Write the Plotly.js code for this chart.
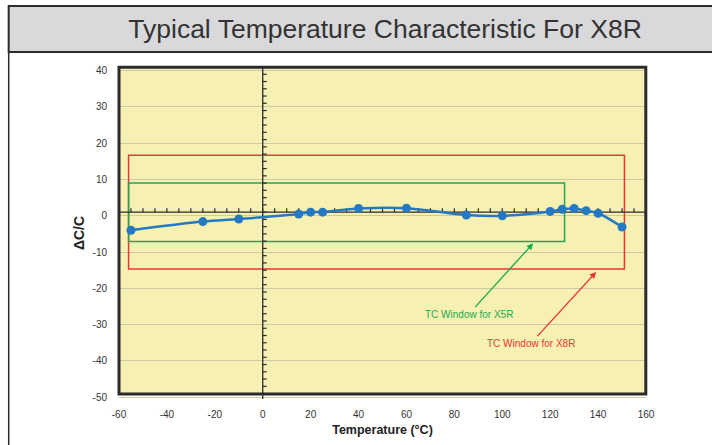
<!DOCTYPE html>
<html>
<head>
<meta charset="utf-8">
<script src="https://cdn.plot.ly/plotly-3.0.1.min.js"></script>
<style>html,body{margin:0;padding:0;background:#fff;}#chart{width:712px;height:445px;}</style>
</head>
<body>
<div id="chart"></div>
<script>
// ---- data ----
const temperatureC = [-55, -25, -10, 15, 20, 25, 40, 60, 85, 100, 120, 125, 130, 135, 140, 150];
const deltaCapPct  = [-4.0, -1.6, -0.9, 0.5, 1.0, 1.0, 2.0, 2.1, 0.2, 0.0, 1.2, 1.8, 2.0, 1.4, 0.7, -3.1];
const x5rWindowX = [-56, 126];
const x5rWindowY = [-7.1, 9.0];
const x8rWindowX = [-56, 151];
const x8rWindowY = [-14.7, 16.7];
const xTickVals = [-60, -40, -20, 0, 20, 40, 60, 80, 100, 120, 140, 160];
const xTickText = ["-60", "-40", "-20", "0", "20", "40", "60", "80", "100", "120", "140", "160"];
const yTickVals = [-50, -40, -30, -20, -10, 0, 10, 20, 30, 40];
const yTickText = ["-50", "-40", "-30", "-20", "-10", "0", "10", "20", "30", "40"];
const titleText = "Typical Temperature Characteristic For X8R";
const xTitle = "Temperature (°C)";
const yTitle = "ΔC/C";
const x5rLabel = "TC Window for X5R";
const x8rLabel = "TC Window for X8R";

// ---- layout geometry ----
const W = 712, H = 445;
const M = {l: 118.7, r: 65.8, t: 66.7, b: 46.2};
const pw = W - M.l - M.r, ph = H - M.t - M.b;
const px = v => (v - M.l) / pw;
const py = v => (H - M.b - v) / ph;
const axisY = 1;   // drawn crossing line of the horizontal axis
const dark = "#2b2b2b";
const green = "#1FA84F";
const red = "#EE3535";

const shapes = [];
// outer border + title bar
shapes.push({type:"rect", xref:"paper", yref:"paper", x0:px(8.3), x1:px(720), y0:py(5.7), y1:py(450),
  line:{color:dark, width:1.5}, fillcolor:"#ffffff", layer:"below"});
shapes.push({type:"rect", xref:"paper", yref:"paper", x0:px(8.3), x1:px(720), y0:py(5.7), y1:py(51.7),
  line:{color:dark, width:2}, fillcolor:"#D9D9DB", layer:"below"});
// yellow plot background
shapes.push({type:"rect", xref:"paper", yref:"paper", x0:px(118.7), x1:px(646), y0:py(67), y1:py(393.7),
  line:{width:0}, fillcolor:"#F6F1B3", layer:"below"});
// windows
shapes.push({type:"rect", xref:"x", yref:"y", x0:x8rWindowX[0], x1:x8rWindowX[1], y0:x8rWindowY[0], y1:x8rWindowY[1],
  line:{color:red, width:1.5}, fillcolor:"rgba(0,0,0,0)", layer:"between"});
shapes.push({type:"rect", xref:"x", yref:"y", x0:x5rWindowX[0], x1:x5rWindowX[1], y0:x5rWindowY[0], y1:x5rWindowY[1],
  line:{color:green, width:1.5}, fillcolor:"rgba(0,0,0,0)", layer:"between"});
// horizontal crossing axis line with ticks
shapes.push({type:"line", xref:"x", yref:"y", x0:-60, x1:160, y0:axisY, y1:axisY, line:{color:dark, width:1.3}, layer:"between"});
for (let t = -55; t <= 155; t += 5) {
  shapes.push({type:"line", xref:"x", yref:"y", ysizemode:"pixel", yanchor:axisY, x0:t, x1:t, y0:0, y1:4,
    line:{color:dark, width:1.2}, layer:"between"});
}
// vertical axis at 0 with ticks
shapes.push({type:"line", xref:"x", yref:"y", x0:0, x1:0, y0:-50.5, y1:41, line:{color:dark, width:1.3}, layer:"between"});
for (let t = -49; t <= 39; t += 2) {
  shapes.push({type:"line", xref:"x", yref:"y", xsizemode:"pixel", xanchor:0, x0:0, x1:4, y0:t, y1:t,
    line:{color:dark, width:1.2}, layer:"between"});
}
// plot frame
shapes.push({type:"rect", xref:"paper", yref:"paper", x0:px(118.7), x1:px(646), y0:py(67), y1:py(393.7),
  line:{color:dark, width:3}, fillcolor:"rgba(0,0,0,0)", layer:"above"});

const trace = {
  type:"scatter", mode:"lines+markers", x:temperatureC, y:deltaCapPct,
  line:{color:"#2479C2", width:2.5, shape:"spline", smoothing:1},
  marker:{color:"#2479C2", size:9}, hoverinfo:"skip", showlegend:false, cliponaxis:false
};

const font = "Liberation Sans, Arial, Helvetica, sans-serif";
const layout = {
  width:W, height:H, margin:M,
  paper_bgcolor:"rgba(0,0,0,0)", plot_bgcolor:"rgba(0,0,0,0)",
  font:{family:font, color:"#333333", size:10},
  title:{text:titleText, font:{size:26.5, color:"#333333", family:font}, x:(385 - M.l) / pw, xref:"paper", xanchor:"center",
    y:1 - 28.5/H, yref:"container", yanchor:"middle"},
  xaxis:{range:[-60,160], tickvals:xTickVals, ticktext:xTickText, showgrid:false, zeroline:false, showline:false,
    ticks:"outside", ticklen:6, tickcolor:"rgba(0,0,0,0)", tickfont:{size:10, color:"#333"},
    title:{text:xTitle, font:{size:12.5, color:"#222", family:font, weight:"bold"}, standoff:6}, fixedrange:true},
  yaxis:{range:[-50.5,41], tickvals:yTickVals, ticktext:yTickText, showgrid:true, gridcolor:"#CDC8A6", gridwidth:1, zeroline:false, showline:false,
    ticks:"outside", ticklen:9, tickcolor:"rgba(0,0,0,0)", tickfont:{size:10, color:"#333"},
    title:{text:yTitle, font:{size:14, color:"#222", family:font, weight:"bold"}, standoff:4}, fixedrange:true},
  shapes:shapes,
  annotations:[
    {x:112.9, y:-7.6, ax:86, ay:-27.1, axref:"x", ayref:"y", xref:"x", yref:"y", text:x5rLabel,
     showarrow:true, arrowhead:2, arrowsize:1, arrowwidth:1.3, arrowcolor:green, standoff:0,
     font:{size:10, color:green, family:font}},
    {x:139.2, y:-15.5, ax:112, ay:-35.1, axref:"x", ayref:"y", xref:"x", yref:"y", text:x8rLabel,
     showarrow:true, arrowhead:2, arrowsize:1, arrowwidth:1.3, arrowcolor:red, standoff:0,
     font:{size:10, color:red, family:font}}
  ]
};
Plotly.newPlot("chart", [trace], layout, {staticPlot:true, displayModeBar:false});
</script>
</body>
</html>
